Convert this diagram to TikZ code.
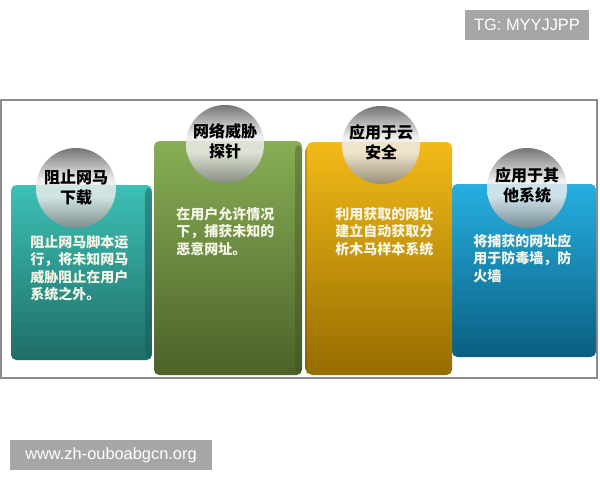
\documentclass[tikz,border=0pt]{standalone}
\usepackage{fontspec}
\setmainfont{Liberation Sans}
\newfontfamily\cjk{Noto Sans CJK SC}
\definecolor{frameC}{HTML}{8C8C8C}
\definecolor{tealT}{HTML}{3DC0B6}
\definecolor{tealB}{HTML}{1E6E67}
\definecolor{tealS}{HTML}{1A655F}
\definecolor{greenT}{HTML}{88AE56}
\definecolor{greenB}{HTML}{4C6228}
\definecolor{greenS}{HTML}{445A23}
\definecolor{orangeT}{HTML}{F3BA18}
\definecolor{orangeB}{HTML}{956C00}
\definecolor{orangeS}{HTML}{CC9808}
\definecolor{blueT}{HTML}{26AFE0}
\definecolor{blueB}{HTML}{0A5F82}
\definecolor{orbB}{HTML}{8A8A8A}
\definecolor{orbL}{HTML}{EDEDED}
\definecolor{orbT}{HTML}{5A5A5A}
\definecolor{bodyC}{HTML}{F6F6E8}
\definecolor{wmC}{HTML}{A6A6A6}
\pgfdeclareverticalshading{orb}{100bp}{color(0bp)=(orbB); color(25bp)=(orbB); color(45bp)=(orbL); color(55bp)=(orbL); color(75bp)=(orbT); color(100bp)=(orbT)}
\tikzset{
  panel/.style={rounded corners=4pt},
  orbstyle/.style={shading=orb, opacity=0.84},
  title/.style={font=\cjk\bfseries\fontsize{12pt}{15pt}\selectfont, text=black, align=center, inner sep=0pt},
  body/.style={font=\cjk\bfseries\fontsize{10.5pt}{13.1pt}\selectfont, text=bodyC, align=left, anchor=north west, inner sep=0pt},
  wm/.style={fill=wmC, text=white, font=\fontsize{12.3pt}{14pt}\selectfont, inner sep=0pt, minimum height=22.5pt}
}
\begin{document}
\begin{tikzpicture}[x=0.75pt,y=-0.75pt]
\useasboundingbox (0,0) rectangle (600,480);
\fill[white] (0,0) rectangle (600,480);
% frame
\draw[frameC, line width=0.9pt] (1,100) rectangle (597,378);
% back panels
\shade[panel, top color=tealT, bottom color=tealB] (11,185) rectangle (152,360);
\shade[panel, top color=tealS!55!tealT, bottom color=tealS] (145,188) rectangle (152,358);
\shade[panel, top color=blueT, bottom color=blueB] (452,184) rectangle (596,357);
% front panels
\shade[panel, top color=greenT, bottom color=greenB] (154,141) rectangle (302,375);
\shade[panel, top color=greenS!45!greenT, bottom color=greenS] (295,145) rectangle (302,373);
\shade[panel, top color=orangeS, bottom color=orangeB!90!black] (305,146) rectangle (311,373);
\shade[panel, top color=orangeT, bottom color=orangeB] (307,142) rectangle (452,375);
% orbs
\shade[orbstyle] (76,188) circle[radius=40];
\shade[orbstyle] (225,144) circle[radius=39];
\shade[orbstyle] (381,145) circle[radius=39];
\shade[orbstyle] (527,188) circle[radius=40];
% titles
\node[title] (t1) at (76,187) {阻止网马\\下载};
\node[title] (t2) at (225,141.5) {网络威胁\\探针};
\node[title] (t3) at (381,142.5) {应用于云\\安全};
\node[title] (t4) at (527,185) {应用于其\\他系统};
% bodies
\node[body] (b1) at (30,235) {阻止网马脚本运\\行，将未知网马\\威胁阻止在用户\\系统之外。};
\node[body] (b2) at (176,207) {在用户允许情况\\下，捕获未知的\\恶意网址。};
\node[body] (b3) at (335,207) {利用获取的网址\\建立自动获取分\\析木马样本系统};
\node[body] (b4) at (473,234) {将捕获的网址应\\用于防毒墙，防\\火墙};
% watermarks
\node[wm, minimum width=93pt] (w1) at (527,25) {TG: MYYJJPP};
\node[wm, minimum width=151.5pt] (w2) at (111,455) {www.zh-ouboabgcn.org};
\end{tikzpicture}
\end{document}
